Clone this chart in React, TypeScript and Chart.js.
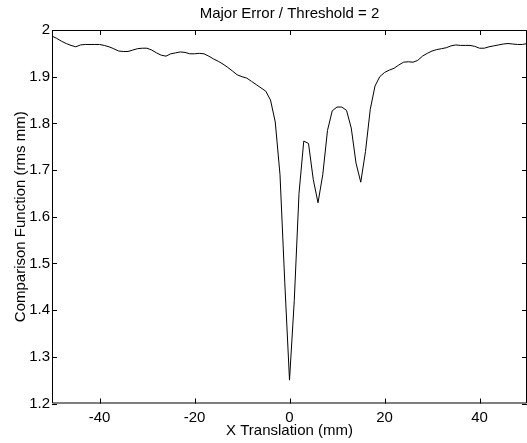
import React, { useEffect, useRef } from "react";
import { Chart, registerables } from "chart.js";

Chart.register(...registerables);

const xValues: number[] = Array.from({ length: 101 }, (_, i) => i - 50);
const comparison: number[] = [
  1.987, 1.982, 1.976, 1.971, 1.967, 1.964, 1.968, 1.969, 1.969, 1.969,
  1.969, 1.967, 1.964, 1.960, 1.955, 1.954, 1.954, 1.957, 1.960, 1.961,
  1.961, 1.957, 1.951, 1.946, 1.944, 1.949, 1.951, 1.953, 1.952, 1.949,
  1.949, 1.950, 1.949, 1.944, 1.938, 1.933, 1.927, 1.920, 1.912, 1.904,
  1.900, 1.897, 1.890, 1.883, 1.876, 1.869, 1.850, 1.803, 1.69, 1.46,
  1.25, 1.42, 1.65, 1.762, 1.757, 1.68, 1.63, 1.69, 1.785, 1.827,
  1.835, 1.835, 1.828, 1.79, 1.715, 1.674, 1.74, 1.83, 1.88, 1.90,
  1.909, 1.914, 1.918, 1.925, 1.931, 1.932, 1.931, 1.935, 1.944, 1.950,
  1.955, 1.958, 1.960, 1.962, 1.966, 1.968, 1.967, 1.967, 1.967, 1.965,
  1.961, 1.961, 1.964, 1.966, 1.968, 1.970, 1.971, 1.970, 1.969, 1.969,
  1.971,
];
const xTicks: number[] = [-40, -20, 0, 20, 40];
const yTicks: number[] = [1.2, 1.3, 1.4, 1.5, 1.6, 1.7, 1.8, 1.9, 2.0];

const FONT = "'Liberation Sans', Arial, Helvetica, sans-serif";

const frameTicks = {
  id: "frameTicks",
  afterDatasetsDraw(chart: any) {
    const { ctx, chartArea } = chart;
    const { left, right, top, bottom } = chartArea;
    const xs = chart.scales.x;
    const ys = chart.scales.y;
    const len = 5;
    ctx.save();
    ctx.strokeStyle = "#000";
    ctx.lineWidth = 1;
    ctx.beginPath();
    ctx.rect(left + 0.5, top + 0.5, right - left - 1, bottom - top - 1);
    for (const v of xTicks) {
      const px = Math.round(xs.getPixelForValue(v)) + 0.5;
      ctx.moveTo(px, bottom);
      ctx.lineTo(px, bottom - len);
      ctx.moveTo(px, top);
      ctx.lineTo(px, top + len);
    }
    for (const v of yTicks) {
      const py = Math.round(ys.getPixelForValue(v)) + 0.5;
      ctx.moveTo(left, py);
      ctx.lineTo(left + len, py);
      ctx.moveTo(right, py);
      ctx.lineTo(right - len, py);
    }
    ctx.stroke();
    ctx.restore();
  },
};

export default function App() {
  const ref = useRef<HTMLCanvasElement | null>(null);
  useEffect(() => {
    document.body.style.margin = "0";
    const canvas = ref.current;
    if (!canvas) return;
    const chart = new Chart(canvas, {
      type: "line",
      data: {
        labels: xValues,
        datasets: [
          {
            data: xValues.map((x, i) => ({ x, y: comparison[i] })),
            borderColor: "#000",
            borderWidth: 1,
            pointRadius: 0,
            tension: 0,
            fill: false,
          },
        ],
      },
      options: {
        animation: false,
        responsive: false,
        maintainAspectRatio: false,
        layout: { padding: { left: 0, right: 0, top: 0, bottom: 0 } },
        plugins: {
          legend: { display: false },
          tooltip: { enabled: false },
          title: {
            display: true,
            fullSize: false,
            text: "Major Error / Threshold = 2",
            color: "#000",
            font: { family: FONT, size: 15, weight: "normal", lineHeight: 1.2 },
            padding: { top: 4.7, bottom: 7.3 },
          },
        },
        scales: {
          x: {
            type: "linear",
            min: -50,
            max: 50,
            afterBuildTicks: (s: any) => {
              s.ticks = xTicks.map((v) => ({ value: v }));
            },
            afterFit: (s: any) => {
              s.height = 39.5;
            },
            grid: { display: false, drawTicks: false },
            border: { display: false },
            ticks: {
              color: "#000",
              font: { family: FONT, size: 15, lineHeight: 1.2 },
              padding: 5,
              maxRotation: 0,
              callback: (v: any) => String(v),
            },
            title: {
              display: true,
              text: "X Translation (mm)",
              color: "#000",
              font: { family: FONT, size: 15, lineHeight: 1.2 },
              padding: { top: 0, bottom: 3.5 },
            },
          },
          y: {
            type: "linear",
            min: 1.2,
            max: 2,
            afterBuildTicks: (s: any) => {
              s.ticks = yTicks.map((v) => ({ value: v }));
            },
            afterFit: (s: any) => {
              s.width = 52;
            },
            grid: { display: false, drawTicks: false },
            border: { display: false },
            ticks: {
              color: "#000",
              font: { family: FONT, size: 15, lineHeight: 1.2 },
              padding: 2,
              callback: (v: any) => String(Number(Number(v).toFixed(1))),
            },
            title: {
              display: true,
              text: "Comparison Function (rms mm)",
              color: "#000",
              font: { family: FONT, size: 15, lineHeight: 1.2 },
              padding: { top: 11.5, bottom: 0 },
            },
          },
        },
      },
      plugins: [frameTicks],
    });
    return () => chart.destroy();
  }, []);
  return (
    <div style={{ width: 527, height: 443, background: "#fff" }}>
      <canvas ref={ref} width={527} height={443} style={{ display: "block", width: 527, height: 443 }} />
    </div>
  );
}
